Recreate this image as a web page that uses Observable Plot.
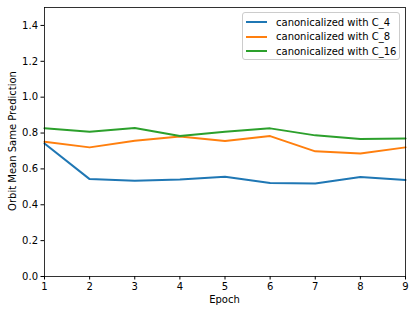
<!DOCTYPE html>
<html>
<head>
<meta charset="utf-8">
<script src="https://cdn.jsdelivr.net/npm/d3@7"></script>
<script src="https://cdn.jsdelivr.net/npm/@observablehq/plot@0.6"></script>
<style>
body { margin: 0; background: #fff; font-family: "DejaVu Sans", sans-serif; }
#wrap { position: relative; width: 416px; height: 314px; }
#legend { position: absolute; left: 242px; top: 12px; width: 158px; height: 48px; border: 1px solid #ccc; border-radius: 3px; background: rgba(255,255,255,0.8); font-size: 10px; box-sizing: border-box; }
.row { position: absolute; left: 3px; height: 12px; display: flex; align-items: center; }
.sw { width: 21px; height: 0; border-top: 2px solid; margin-right: 9px; }
.xl { position: absolute; left: 44px; width: 361px; top: 294px; text-align: center; font-size: 10px; }
.yl { position: absolute; left: 12px; top: 141px; font-size: 10px; white-space: nowrap; transform: translate(-50%, -50%) rotate(-90deg); }
</style>
</head>
<body>
<div id="wrap"></div>
<script>
const epochs = [1, 2, 3, 4, 5, 6, 7, 8, 9];
const c4  = [0.742, 0.543, 0.534, 0.541, 0.556, 0.521, 0.519, 0.555, 0.538];
const c8  = [0.752, 0.720, 0.757, 0.780, 0.755, 0.783, 0.698, 0.686, 0.720];
const c16 = [0.826, 0.807, 0.828, 0.783, 0.807, 0.826, 0.787, 0.767, 0.770];
const seriesNames = ["canonicalized with C_4", "canonicalized with C_8", "canonicalized with C_16"];
const colors = ["#1f77b4", "#ff7f0e", "#2ca02c"];
const yTicks = [0, 0.2, 0.4, 0.6, 0.8, 1.0, 1.2, 1.4];
const xLabel = "Epoch";
const yLabel = "Orbit Mean Same Prediction";

const seriesVals = [c4, c8, c16];
const data = [];
seriesVals.forEach((vals, i) => vals.forEach((v, j) => data.push({epoch: epochs[j], value: v, series: seriesNames[i]})));

const chart = Plot.plot({
  width: 416,
  height: 314,
  marginLeft: 44,
  marginRight: 11,
  marginTop: 7,
  marginBottom: 38,
  style: {fontFamily: "DejaVu Sans, sans-serif", fontSize: "10px", color: "#000", background: "#fff"},
  x: {domain: [1, 9], ticks: epochs, tickFormat: d3.format("d"), label: null, tickSize: 3.5, tickPadding: 3},
  y: {domain: [0, 1.5], ticks: yTicks, tickFormat: d3.format(".1f"), label: null, tickSize: 3.5, tickPadding: 3},
  color: {domain: seriesNames, range: colors},
  marks: [
    Plot.line(data, {x: "epoch", y: "value", z: "series", stroke: "series", strokeWidth: 2}),
    Plot.frame({stroke: "#000", strokeWidth: 0.8})
  ]
});
const wrap = document.getElementById("wrap");
wrap.appendChild(chart);

const xl = document.createElement("div");
xl.className = "xl"; xl.textContent = xLabel; wrap.appendChild(xl);
const yl = document.createElement("div");
yl.className = "yl"; yl.textContent = yLabel; wrap.appendChild(yl);

const legend = document.createElement("div");
legend.id = "legend";
seriesNames.forEach((name, i) => {
  const row = document.createElement("div");
  row.className = "row";
  row.style.top = (3 + i * 14.7) + "px";
  const sw = document.createElement("span");
  sw.className = "sw";
  sw.style.borderColor = colors[i];
  const t = document.createElement("span");
  t.textContent = name;
  row.appendChild(sw);
  row.appendChild(t);
  legend.appendChild(row);
});
wrap.appendChild(legend);
</script>
</body>
</html>
